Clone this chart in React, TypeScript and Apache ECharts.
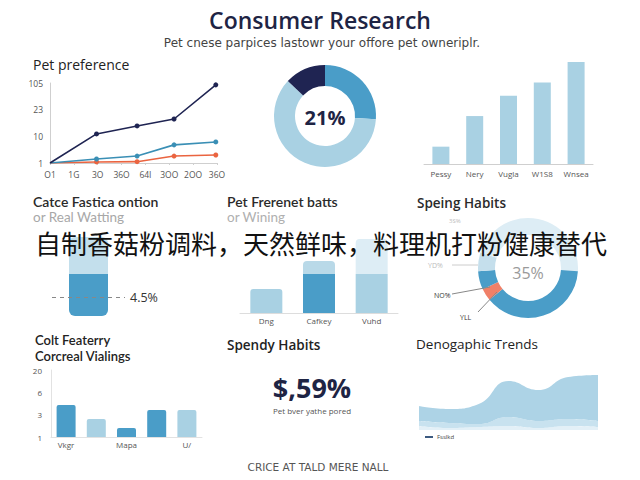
import React, { useEffect, useRef } from "react";
import * as echarts from "echarts";

// ---- data ----
const lineXLabels = ["O1", "1G", "3O", "36O", "64I", "3OO", "2OO", "36O"];
const lineYLabels = ["1", "10", "23", "105"];
const prefDark = [[0, 0], [1.95, 1.09], [3.65, 1.39], [5.2, 1.65], [6.95, 2.93]];
const prefTeal = [[0, 0], [1.95, 0.15], [3.65, 0.26], [5.2, 0.68], [6.95, 0.79]];
const prefOrange = [[0, 0], [1.95, 0.04], [3.65, 0.05], [5.2, 0.26], [6.95, 0.3]];

const shareValues = [26, 61, 13];
const shareLabel = "21%";

const topBarCats = ["Pessy", "Nery", "Vugla", "W1S8", "Wnsea"];
const topBarValues = [17, 47, 67, 80, 100];

const fastCats = ["A"];
const fastBase = [42];
const fastTop = [37];
const fastMark = 19;
const fastMarkLabel = "4.5%";

const traitCats = ["Dng", "Cafkey", "Vuhd"];
const traitBase = [24, 39, 39];
const traitTop = [0, 13, 35];

const habitValues = [26, 38, 4, 6, 6, 20];
const habitCenter = "35%";

const featCats = ["Vkgr", "", "Mapa", "", "U/"];
const featYLabels = ["1", "3", "6", "20"];
const featValues = [1.43, 0.81, 0.4, 1.21, 1.21];

const trendX = ["1", "2", "3", "4", "5", "6", "7"];
const trendLow = [4, 2, 3, 4, 2, 4, 3];
const trendMid = [5, 5, 3, 9, 7, 7, 6];
const trendHigh = [15, 14, 20, 36, 31, 42, 46];

// ---- colours ----
const NAVY = "#1f2452";
const MED = "#4a9dc8";
const LIGHT = "#a9d1e3";
const VLIGHT = "#ddedf5";
const ORANGE = "#ea6440";
const TEAL = "#3a8fb5";
const FONT = "'Open Sans', 'Noto Sans', sans-serif";
const WIDE = "'DejaVu Sans', sans-serif";
const TIGHT = "Lato, sans-serif";

function txt(text: string, x: number, y: number, size: number, opts: any = {}) {
  const align = opts.align || "left";
  return {
    type: "text",
    x,
    y,
    z: opts.z || 10,
    style: {
      text,
      fontSize: size,
      fontWeight: opts.weight || "normal",
      fontFamily: opts.family || FONT,
      fill: opts.color || "#222",
      align,
      textAlign: align,
      verticalAlign: "middle",
      textVerticalAlign: "middle",
    },
  };
}

function ln(x1: number, y1: number, x2: number, y2: number, color = "#999") {
  return { type: "line", shape: { x1, y1, x2, y2 }, style: { stroke: color, lineWidth: 1 }, z: 10 };
}

export default function App() {
  const ref = useRef<HTMLDivElement>(null);
  useEffect(() => {
    if (!ref.current) return;
    const chart = echarts.init(ref.current, null, { renderer: "svg" });
    const axisGray = { lineStyle: { color: "#cfcfcf" } };
    const lblStyle = { color: "#555", fontSize: 8, fontFamily: FONT };

    const option: any = {
      animation: false,
      backgroundColor: "#ffffff",
      textStyle: { fontFamily: FONT },
      grid: [
        { left: 50, top: 83, width: 167, height: 80 },
        { left: 424, top: 62, width: 169, height: 102 },
        { left: 52, top: 237, width: 73, height: 79 },
        { left: 240, top: 239, width: 158, height: 74 },
        { left: 51, top: 370, width: 151, height: 67 },
        { left: 419, top: 370, width: 179, height: 60 },
      ],
      xAxis: [
        {
          gridIndex: 0, type: "value", min: 0, max: 7, interval: 1,
          axisLine: { show: true, ...axisGray }, axisTick: { show: true, length: 2, ...axisGray },
          splitLine: { show: false },
          axisLabel: { ...lblStyle, fontSize: 8.5, margin: 7, formatter: (v: number) => lineXLabels[v] ?? "" },
        },
        {
          gridIndex: 1, type: "category", data: topBarCats,
          axisLine: { show: true, ...axisGray }, axisTick: { show: false },
          axisLabel: { ...lblStyle, margin: 5, interval: 0 },
        },
        {
          gridIndex: 2, type: "category", data: fastCats, show: false,
        },
        {
          gridIndex: 3, type: "category", data: traitCats,
          axisLine: { show: true, lineStyle: { color: "#dddddd" } }, axisTick: { show: false },
          axisLabel: { ...lblStyle, margin: 3, interval: 0 },
        },
        {
          gridIndex: 4, type: "category", data: featCats,
          axisLine: { show: true, lineStyle: { color: "#e2e2e2" } }, axisTick: { show: false },
          axisLabel: { ...lblStyle, margin: 3, interval: 0 },
        },
        {
          gridIndex: 5, type: "category", data: trendX, boundaryGap: false, show: false,
        },
      ],
      yAxis: [
        {
          gridIndex: 0, type: "value", min: 0, max: 3, interval: 1,
          axisLine: { show: true, ...axisGray }, axisTick: { show: false },
          splitLine: { show: false },
          axisLabel: { ...lblStyle, fontSize: 8.5, margin: 7, formatter: (v: number) => lineYLabels[v] ?? "" },
        },
        { gridIndex: 1, type: "value", min: 0, max: 100, show: false },
        { gridIndex: 2, type: "value", min: 0, max: 79, show: false },
        { gridIndex: 3, type: "value", min: 0, max: 74, show: false },
        {
          gridIndex: 4, type: "value", min: 0, max: 3, interval: 1,
          axisLine: { show: true, lineStyle: { color: "#e2e2e2" } }, axisTick: { show: false },
          splitLine: { show: false },
          axisLabel: { ...lblStyle, margin: 9, formatter: (v: number) => featYLabels[v] ?? "" },
        },
        { gridIndex: 5, type: "value", min: 0, max: 60, show: false },
      ],
      series: [
        // line chart
        ...[
          [prefOrange, ORANGE],
          [prefTeal, TEAL],
          [prefDark, NAVY],
        ].map(([d, c]: any) => ({
          type: "line", xAxisIndex: 0, yAxisIndex: 0, silent: true,
          symbol: "circle", symbolSize: 5,
          lineStyle: { color: c, width: 1.6 }, itemStyle: { color: c },
          data: d.map((p: number[], i: number) => (i === 0 ? { value: p, symbolSize: 0 } : p)),
        })),
        // donut 1
        {
          type: "pie", center: [325, 116], radius: [30, 51], startAngle: 90, silent: true,
          label: { show: false }, labelLine: { show: false },
          data: shareValues.map((v, i) => ({ value: v, itemStyle: { color: [MED, LIGHT, NAVY][i] } })),
        },
        // bar chart top right
        {
          type: "bar", xAxisIndex: 1, yAxisIndex: 1, barWidth: 17, silent: true,
          itemStyle: { color: LIGHT }, data: topBarValues,
        },
        // single stacked bar
        {
          type: "bar", xAxisIndex: 2, yAxisIndex: 2, stack: "f", barWidth: 39, silent: true,
          itemStyle: { color: MED, borderRadius: [0, 0, 6, 6] }, data: fastBase,
          markLine: {
            silent: true, symbol: "none",
            lineStyle: { color: "#888", type: [4, 4], width: 1 },
            label: { show: true, position: "end", formatter: fastMarkLabel, color: "#333", fontSize: 12.5, distance: 5 },
            data: [{ yAxis: fastMark }],
          },
        },
        {
          type: "bar", xAxisIndex: 2, yAxisIndex: 2, stack: "f", barWidth: 39, silent: true,
          itemStyle: { color: "#c3dfec", borderRadius: [6, 6, 0, 0] }, data: fastTop,
        },
        // stacked trait bars
        {
          type: "bar", xAxisIndex: 3, yAxisIndex: 3, stack: "t", barWidth: 32, silent: true,
          data: traitBase.map((v, i) => ({
            value: v,
            itemStyle: { color: [LIGHT, MED, LIGHT][i], borderRadius: i === 0 ? [3, 3, 0, 0] : 0 },
          })),
        },
        {
          type: "bar", xAxisIndex: 3, yAxisIndex: 3, stack: "t", barWidth: 32, silent: true,
          data: traitTop.map((v, i) => ({
            value: v,
            itemStyle: { color: [LIGHT, "#b9d9e8", VLIGHT][i], borderRadius: [4, 4, 0, 0] },
          })),
        },
        // donut 2
        {
          type: "pie", center: [528, 268], radius: [33, 50], startAngle: 90, silent: true,
          label: { show: false }, labelLine: { show: false },
          data: habitValues.map((v, i) => ({
            value: v,
            itemStyle: { color: [VLIGHT, MED, "#f08068", MED, "#c5dfec", VLIGHT][i] },
          })),
        },
        // feature bars
        {
          type: "bar", xAxisIndex: 4, yAxisIndex: 4, barWidth: 19, silent: true,
          data: featValues.map((v, i) => ({
            value: v,
            itemStyle: { color: [MED, LIGHT, MED, MED, LIGHT][i], borderRadius: [2, 2, 0, 0] },
          })),
        },
        // demographic areas
        ...[
          [trendLow, "#e3f0f7"],
          [trendMid, "#c8e2ef"],
          [trendHigh, "#add3e6"],
        ].map(([d, c]: any) => ({
          type: "line", xAxisIndex: 5, yAxisIndex: 5, stack: "a", smooth: true, silent: true,
          symbol: "none", lineStyle: { width: 0 }, areaStyle: { color: c, opacity: 1 },
          data: d,
        })),
      ],
      graphic: [
        txt("Consumer Research", 320, 20, 23, { align: "center", weight: 600, color: "#1e2444" }),
        txt("Pet cnese parpices lastowr your offore pet owneriplr.", 322, 43, 12, { align: "center", color: "#444", family: WIDE }),
        txt("Pet preference", 33, 64, 14, { weight: 500, color: "#222" }),
        txt(shareLabel, 325, 117, 20, { align: "center", weight: "bold", color: "#1e2444" }),
        txt("Catce Fastica ontion", 33, 201, 14, { weight: 600, color: "#2a2a2a", family: TIGHT }),
        txt("or Real Watting", 33, 217, 13.5, { color: "#a8a8a8", family: TIGHT }),
        txt("Pet Frerenet batts", 227, 201, 14, { weight: 600, color: "#2a2a2a", family: TIGHT }),
        txt("or Wining", 227, 217, 13.5, { color: "#b0b0b0", family: TIGHT }),
        txt("Speing Habits", 417, 203, 13.5, { weight: 600, color: "#2a2a2a" }),
        txt(habitCenter, 528, 273, 16, { align: "center", color: "#9a9a9a" }),
        txt("3S%", 449, 221, 6, { color: "#bbb" }),
        ln(452, 265, 478, 265, "#ccc"),
        txt("YD%", 428, 265, 7, { color: "#bbb" }),
        ln(452, 294, 490, 287, "#888"),
        txt("NO%", 434, 295, 7, { color: "#333" }),
        ln(478, 312, 497, 292, "#888"),
        txt("YLL", 460, 317, 7, { color: "#333" }),
        txt("Colt Featerry", 35, 340, 13, { weight: 600, color: "#222", family: TIGHT }),
        txt("Corcreal Vialings", 35, 356, 13, { weight: 600, color: "#222", family: TIGHT }),
        txt("Spendy Habits", 227, 345, 13.5, { weight: 600, color: "#222" }),
        txt("$,59%", 312, 387, 27, { align: "center", weight: "bold", color: "#1e2444" }),
        txt("Pet bver yathe pored", 312, 410, 8, { align: "center", color: "#555" }),
        txt("CRICE AT TALD MERE NALL", 318, 467, 10.5, { align: "center", color: "#555", family: WIDE }),
        txt("Denogaphic Trends", 416, 344, 13.5, { weight: 500, color: "#222" }),
        { type: "line", shape: { x1: 425, y1: 437, x2: 433, y2: 437 }, style: { stroke: "#3d5a80", lineWidth: 2 }, z: 10 },
        txt("Fsslkd", 437, 437, 6, { color: "#444" }),
        txt("自制香菇粉调料，天然鲜味，料理机打粉健康替代", 321, 242, 26, {
          align: "center", color: "#111", family: "'Noto Sans CJK SC', sans-serif", z: 100,
        }),
      ],
    };
    chart.setOption(option);
    return () => chart.dispose();
  }, []);
  return (
    <div
      ref={ref}
      style={{ position: "fixed", left: 0, top: 0, width: 640, height: 480, background: "#fff" }}
    />
  );
}
